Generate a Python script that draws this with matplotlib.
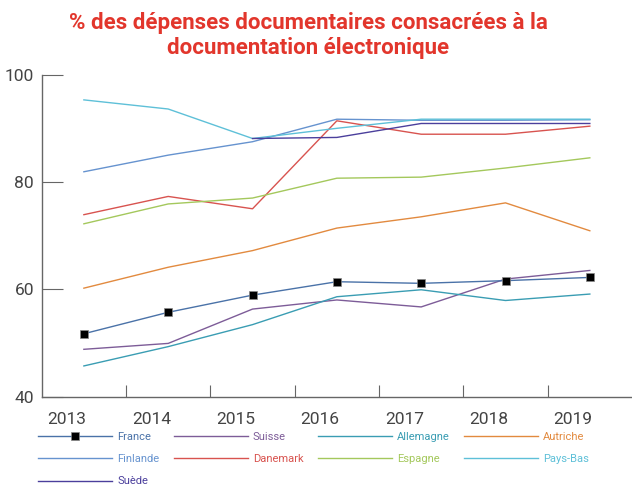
import matplotlib
matplotlib.use('Agg')
import matplotlib.pyplot as plt

plt.rcParams['font.family'] = ['Roboto', 'DejaVu Sans']

years = ['2013', '2014', '2015', '2016', '2017', '2018', '2019']

france = [51.7, 55.7, 58.9, 61.4, 61.1, 61.6, 62.2]
suisse = [48.8, 49.9, 56.3, 58.0, 56.7, 61.9, 63.5]
allemagne = [45.7, 49.3, 53.4, 58.6, 59.9, 57.9, 59.1]
autriche = [60.2, 64.1, 67.2, 71.4, 73.5, 76.1, 70.9]
finlande = [81.9, 85.0, 87.5, 91.7, 91.5, 91.5, 91.6]
danemark = [73.9, 77.3, 75.0, 91.4, 88.9, 88.9, 90.4]
espagne = [72.2, 75.9, 77.0, 80.7, 80.9, 82.6, 84.5]
pays_bas = [95.3, 93.6, 88.1, 90.0, 91.7, 91.7, 91.7]
suede = [None, None, 88.1, 88.3, 90.9, 90.9, 90.9]

series = [
    ('France', france, '#4a72a8'),
    ('Suisse', suisse, '#7d5c98'),
    ('Allemagne', allemagne, '#3a9db3'),
    ('Autriche', autriche, '#e28a3f'),
    ('Finlande', finlande, '#6693cf'),
    ('Danemark', danemark, '#d8534f'),
    ('Espagne', espagne, '#a4c85c'),
    ('Pays-Bas', pays_bas, '#5ec0d8'),
    ('Suède', suede, '#4b3f9c'),
]

fig = plt.figure(figsize=(6.32, 4.9), dpi=100)
ax = fig.add_axes([0.066, 0.1908, 0.934, 0.6568])

x = list(range(len(years)))
handles = {}
for name, vals, col in series:
    xs = [i for i, v in zip(x, vals) if v is not None]
    ys = [v for v in vals if v is not None]
    if name == 'France':
        h, = ax.plot(xs, ys, color=col, lw=1.0, marker='s', markersize=6,
                     markerfacecolor='black', markeredgecolor='#888888',
                     markeredgewidth=0.5, zorder=5)
    else:
        h, = ax.plot(xs, ys, color=col, lw=1.0)
    handles[name] = (h, col)

ax.set_xlim(-0.5, 6.5)
ax.set_ylim(40, 100)

for s in ['top', 'right']:
    ax.spines[s].set_visible(False)
for s in ['left', 'bottom']:
    ax.spines[s].set_color('#666666')
    ax.spines[s].set_linewidth(1.0)

ax.set_yticks([40, 60, 80, 100])
ax.tick_params(axis='y', direction='in', length=15, color='#666666',
               labelsize=12.5, labelcolor='#444444', pad=5.5)

ax.set_xticks([i + 0.5 for i in x[:-1]])
ax.set_xticklabels([])
ax.set_xticks([i - 0.2 for i in x], minor=True)
ax.set_xticklabels(years, minor=True)
ax.tick_params(axis='x', which='major', direction='in', length=9,
               color='#666666')
ax.tick_params(axis='x', which='minor', length=0, labelsize=12.5,
               labelcolor='#444444', pad=11)

fig.text(0.488, 0.928, '% des dépenses documentaires consacrées à la\ndocumentation électronique',
         ha='center', va='center', fontsize=16, fontweight='bold',
         color='#e2362c', linespacing=1.15)

order = ['France', 'Finlande', 'Suède', 'Suisse', 'Danemark',
         'Allemagne', 'Espagne', 'Autriche', 'Pays-Bas']
leg = fig.legend([handles[n][0] for n in order], order, ncol=4,
                 loc='upper left', bbox_to_anchor=(38 / 632, 1 - 432 / 490),
                 frameon=False, fontsize=8, handlelength=6.67,
                 handletextpad=0.45, columnspacing=1.3, labelspacing=1.1,
                 borderpad=0, borderaxespad=0, numpoints=1)
for t, n in zip(leg.get_texts(), order):
    t.set_color(handles[n][1])

fig.savefig('out.png', dpi=100)
